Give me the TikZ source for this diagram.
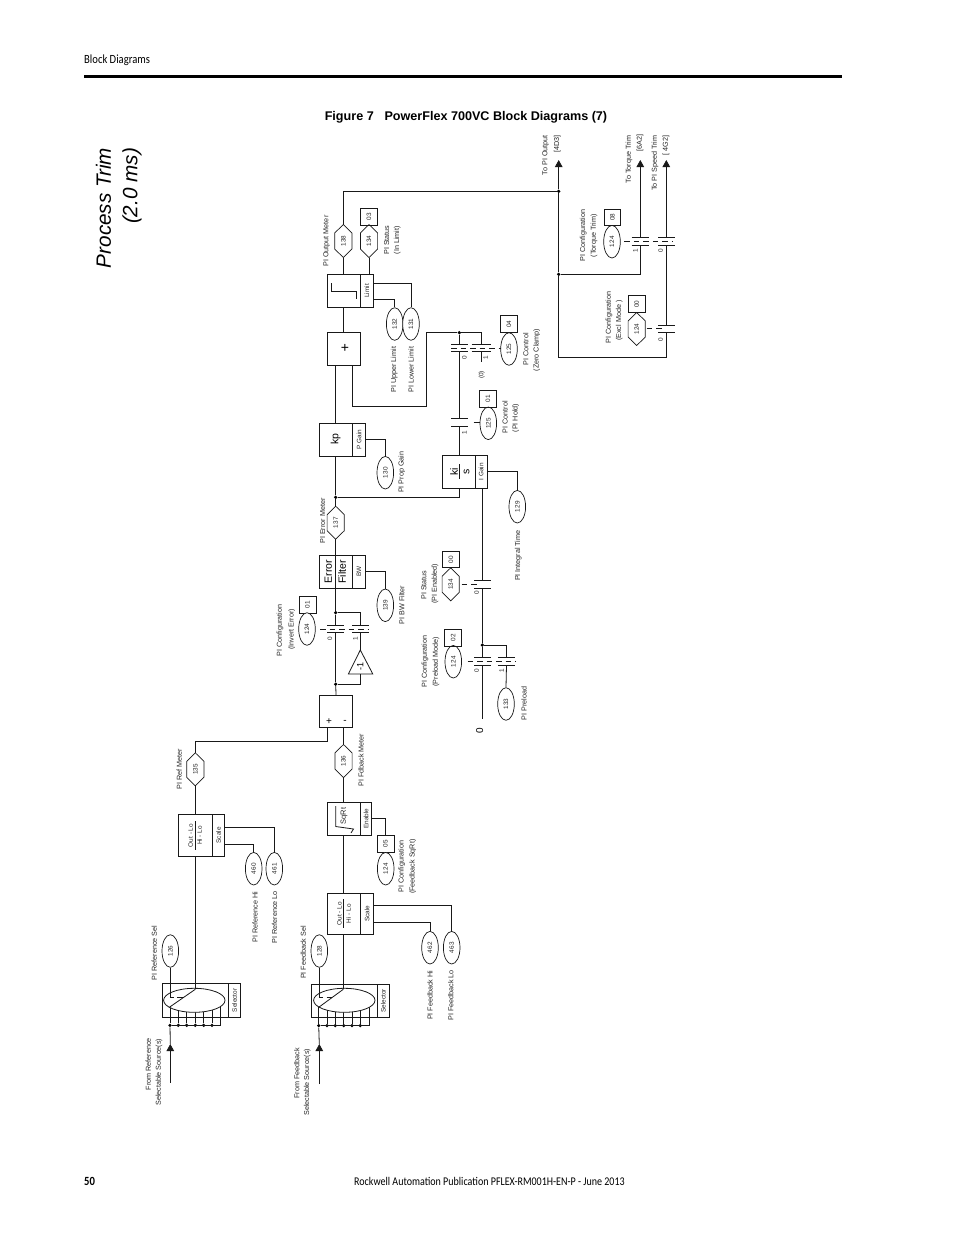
\documentclass[tikz,border=0pt]{standalone}
\usepackage{fontspec}
\setmainfont{Liberation Sans}
\newfontfamily\pagefont[FakeStretch=.85]{Carlito}
\usetikzlibrary{shapes.geometric,arrows.meta,calc}
\newcommand\rt[1]{\rotatebox{90}{#1}}
\newcommand\contact[4]{% name, x, y centre, half width
  \coordinate (#1t) at (#2,#3-3.8);
  \coordinate (#1b) at (#2,#3+3.8);
  \draw[ln] ($(#1t)+(-#4,0)$) -- ($(#1t)+(#4,0)$);
  \draw[ln] ($(#1b)+(-#4,0)$) -- ($(#1b)+(#4,0)$);
}
\newcommand\hexnode[4]{% name, x, y, text
  \node[hexa] (#1) at (#2,#3) {\rt{#4}};
  \draw[draw=black!90,line width=.7pt,line join=miter] (#1.north) -- ($(#1.north east)+(0,8.5)$) -- ($(#1.south east)+(0,-8.5)$) -- (#1.south) -- ($(#1.south west)+(0,-8.5)$) -- ($(#1.north west)+(0,8.5)$) -- cycle;
}
\tikzset{
  ln/.style={line width=.8pt,color=black!90},
  link/.style={line width=.8pt,color=black!90,dash pattern=on 5.5pt off 4pt},
  lb/.style={inner sep=0pt,rotate=90,text=black!85,font=\fontsize{7.2}{8.6}\selectfont},
  sm/.style={inner sep=0pt,rotate=90,text=black!85,font=\fontsize{6.4}{7}\selectfont},
  big/.style={inner sep=0pt,rotate=90,text=black,font=\fontsize{10.5}{12}\selectfont},
  par/.style={draw=black!90,line width=.7pt,ellipse,minimum width=16.6pt,minimum height=32.6pt,inner sep=0pt,fill=white,text=black!85,font=\fontsize{6.4}{7}\selectfont},
  hexa/.style={minimum width=16.8pt,minimum height=32.6pt,inner sep=0pt,text=black!85,font=\fontsize{6.4}{7}\selectfont},
  bitbox/.style={draw=black!90,line width=.8pt,minimum width=16.8pt,minimum height=16.4pt,inner sep=0pt,text=black!85,font=\fontsize{6.4}{7}\selectfont},
  bx/.style={draw=black!90,line width=.8pt,inner sep=0pt,text=black!85,font=\fontsize{6.4}{7}\selectfont},
  dot/.style={circle,fill=black,inner sep=0pt,minimum size=3.6pt},
  tip/.style={-{Triangle[width=7.5pt,length=7pt]}},
}
\begin{document}
\begin{tikzpicture}[x=1pt,y=-1pt]
\useasboundingbox (0,0) rectangle (954,1235);
\fill[white] (0,0) rectangle (954,1235);

% page furniture
\node[anchor=west,inner sep=0pt,font=\pagefont\fontsize{12.5}{14}\selectfont] (hdr) at (84,60.7) {Block Diagrams};
\coordinate (ruleL) at (84,76.3); \coordinate (ruleR) at (842,76.3);
\draw[line width=2.8pt] (ruleL) -- (ruleR);
\node[anchor=center,inner sep=0pt,font=\bfseries\fontsize{12.6}{14}\selectfont] (fig) at (466,117.5) {Figure 7\hspace{.85em}PowerFlex 700VC Block Diagrams (7)};
\node[inner sep=0pt,rotate=90,font=\itshape\fontsize{20.7}{24}\selectfont] (pt1) at (103.5,208) {Process Trim};
\node[inner sep=0pt,rotate=90,font=\itshape\fontsize{20.7}{24}\selectfont] (pt2) at (132,186) {(2.0 ms)};
\node[anchor=west,inner sep=0pt,font=\pagefont\bfseries\fontsize{12.5}{14}\selectfont] (pg) at (84,1181) {50};
\node[anchor=center,inner sep=0pt,font=\pagefont\fontsize{11.8}{14}\selectfont] (pub) at (489.5,1181) {Rockwell Automation Publication PFLEX-RM001H-EN-P - June 2013};

% ---------- reference selector
\node[bx,minimum width=66pt,minimum height=34pt] (s1L) at (195.3,1000.3) {};
\node[bx,minimum width=12.4pt,minimum height=34pt] (s1R) at (234.5,1000.3) {\rt{Selector}};
\foreach \x/\n in {170/a,178.3/b,186.7/c,195.3/d,203.7/e,212/f}{
  \node[dot] (b1\n) at (\x,1025.3) {};
  \draw[ln] (b1\n) -- (\x,1000.3);
}
\coordinate (b1r) at (220.7,1025.3);
\draw[ln] (b1a) -- (b1r) -- (220.7,1000.3);
\node[draw=black!90,line width=.8pt,ellipse,minimum width=61.4pt,minimum height=24pt,inner sep=0pt,fill=white] (sw1) at (194.3,1000.3) {};
\coordinate (sw1p) at (195.3,989.3); \coordinate (sw1q) at (169.3,1007.3);
\draw[ln] (sw1p) -- (sw1q);
\node[par] (p126) at (170.3,951) {\rt{126}};
\coordinate (pt1e) at (170.3,997.5);
\draw[ln] (p126.south) -- (pt1e);
\draw[ln] (pt1e) -- ++(3.7,0);
\draw[ln] (177.3,997.5) -- (182.7,997.5);
\coordinate (in1s) at (170.3,1082.7); \coordinate (in1a) at (170.3,1044);
\draw[ln,tip] (in1s) -- (in1a);
\draw[ln] (in1a) -- (b1a);
\node[bx,minimum width=34pt,minimum height=42pt] (sc1L) at (195.3,835.3) {};
\node[bx,minimum width=12.4pt,minimum height=42pt] (sc1R) at (218.5,835.3) {\rt{Scale}};
\node[sm] (t1a) at (190.7,835.5) {Out - Lo};
\node[sm] (t1b) at (199.6,835.5) {Hi - Lo};
\draw[ln] (sc1L.center |- 0,821) -- (sc1L.center |- 0,850);
\draw[ln] (sc1L.south -| sw1p) -- (sw1p);
\node[par] (p460) at (253.7,868.7) {\rt{460}};
\node[par] (p461) at (274.3,868.7) {\rt{461}};
\draw[ln] (sc1R.east |- 0,844.3) -| (p460.north);
\draw[ln] (sc1R.east |- 0,827) -| (p461.north);
\hexnode{h135}{195.3}{769.3}{135}
\draw[ln] (sc1L.north) -- (h135.south);

% ---------- feedback selector
\node[bx,minimum width=66pt,minimum height=33.3pt] (s2L) at (344.3,1000.7) {};
\node[bx,minimum width=12pt,minimum height=33.3pt] (s2R) at (383.3,1000.7) {\rt{Selector}};
\foreach \x/\n in {318.7/a,327/b,335.3/c,343.7/d,352/e,360.3/f}{
  \node[dot] (b2\n) at (\x,1025.6) {};
  \draw[ln] (b2\n) -- (\x,1000.3);
}
\coordinate (b2r) at (369.3,1025.6);
\draw[ln] (b2a) -- (b2r) -- (369.3,1000.3);
\node[draw=black!90,line width=.8pt,ellipse,minimum width=61.4pt,minimum height=24pt,inner sep=0pt,fill=white] (sw2) at (344.3,1000.3) {};
\coordinate (sw2p) at (343.3,989.3); \coordinate (sw2q) at (318.7,1007.3);
\draw[ln] (sw2p) -- (sw2q);
\node[par] (p128) at (319.3,951) {\rt{128}};
\coordinate (pt2e) at (319.3,997.5);
\draw[ln] (p128.south) -- (pt2e);
\draw[ln] (pt2e) -- ++(3.4,0);
\draw[ln] (326.7,997.5) -- (332,997.5);
\coordinate (in2s) at (319.3,1084); \coordinate (in2a) at (319.3,1044);
\draw[ln,tip] (in2s) -- (in2a);
\draw[ln] (in2a) -- (b2a);
\node[bx,minimum width=33pt,minimum height=41pt] (sc2L) at (343.8,913.8) {};
\node[bx,minimum width=13.4pt,minimum height=41pt] (sc2R) at (367,913.8) {\rt{Scale}};
\node[sm] (t2a) at (339.3,913.6) {Out - Lo};
\node[sm] (t2b) at (348.7,913.6) {Hi - Lo};
\draw[ln] (343.3,899) -- (343.3,928);
\draw[ln] (sc2L.south -| sw2p) -- (sw2p);
\node[par] (p462) at (430,947.7) {\rt{462}};
\node[par] (p463) at (451.7,947.7) {\rt{463}};
\draw[ln] (sc2R.east |- 0,922.3) -| (p462.north);
\draw[ln] (sc2R.east |- 0,905) -| (p463.north);

% ---------- sqrt block
\node[bx,minimum width=33pt,minimum height=33pt] (sq) at (343.8,818.8) {};
\node[bx,minimum width=11.4pt,minimum height=33pt] (en) at (366,818.8) {\rt{Enable}};
\node[inner sep=0pt,rotate=90,text=black!85,font=\fontsize{7.5}{9}\selectfont] (sqt) at (344,816) {SqRt};
\draw[ln] (335.7,806) -- (335.7,826.5) -- (353.5,829) -- (351,833);
\draw[ln] (sq.south -| sw2p) -- (sc2L.north -| sw2p);
\node[bitbox] (b05) at (385.5,843.8) {\rt{05}};
\node[par] (p124f) at (385.7,868.7) {\rt{124}};
\draw[ln] (en.east) -| (b05.north);
\hexnode{h136}{343.5}{761}{136}
\draw[ln] (h136.south) -- (sq.north -| h136.south);

% ---------- summing junction
\node[bx,minimum width=33.4pt,minimum height=32pt] (sum) at (336,711.3) {};
\node[inner sep=0pt,font=\fontsize{10}{11}\selectfont] (sp) at (329,722) {+};
\node[inner sep=0pt,font=\fontsize{10}{11}\selectfont] (sm) at (345,721.6) {-};
\draw[ln] (h135.north) |- (327.3,741.3) -- (sum.south -| 327.3,0);
\draw[ln] (h136.north) -- (sum.south -| h136.north);

% ---------- invert error
\node[dot] (jA) at (335.7,684.2) {};
\draw[ln] (sum.north) -- (jA);
\coordinate (triA) at (360.3,650); \coordinate (triL) at (348.4,674); \coordinate (triR) at (372.8,674);
\draw[ln,line join=miter] (triA) -- (triL) -- (triR) -- cycle;
\node[inner sep=0pt,rotate=90,font=\fontsize{9}{10}\selectfont] (neg) at (360.3,666) {-1};
\contact{c0}{335.7}{629}{8.3}
\contact{c1}{360.3}{629}{8.3}
\draw[ln] (jA) -- (c0b);
\coordinate (triB) at (360.3,674);
\draw[ln] (jA) -| (triB);
\draw[ln] (triA) -- (c1b);
\node[dot] (jB) at (335.7,612.7) {};
\draw[ln] (c1t) |- (jB);
\draw[ln] (c0t) -- (jB);
\node[bitbox] (b01i) at (307.5,604.7) {\rt{01}};
\node[par] (p124i) at (307,629) {\rt{124}};
\coordinate (dI0) at (320,629); \coordinate (dI1) at (369,629);
\draw[link] (dI0) -- (dI1);
\node[sm] (n0a) at (330,638.7) {0};
\node[sm] (n1a) at (355.3,638.7) {1};

% ---------- error filter
\node[bx,minimum width=33pt,minimum height=33pt] (ef) at (335.8,571.8) {};
\node[bx,minimum width=13.4pt,minimum height=33pt] (efr) at (359,571.8) {\rt{BW}};
\node[big] (er) at (328.3,571.8) {Error};
\node[big] (fl) at (342.2,571.8) {Filter};
\draw[ln] (ef.north -| jB) -- (ef.south -| jB);
\draw[ln] (jB) -- (ef.south -| jB);
\node[par] (p139) at (385.3,605.3) {\rt{139}};
\draw[ln] (efr.east) -| (p139.north);
\hexnode{h137}{335.7}{522.7}{137}
\draw[ln] (h137.south) -- (ef.north -| h137.south);

% ---------- kp branch
\node[dot] (jC) at (335.7,497.3) {};
\draw[ln] (h137.north) -- (jC);
\node[bx,minimum width=33pt,minimum height=32.7pt] (kp) at (335.8,439.6) {};
\node[bx,minimum width=13.4pt,minimum height=32.7pt] (kpr) at (359,439.6) {\rt{P Gain}};
\node[big] (kpt) at (335.7,439.3) {kp};
\draw[ln] (jC) -- (kp.south -| jC);
\node[par] (p130) at (385.3,472.7) {\rt{130}};
\draw[ln] (kpr.east) -| (p130.north);

% ---------- ki branch
\node[bx,minimum width=32.3pt,minimum height=33.3pt] (ki) at (458.8,471.7) {};
\node[bx,minimum width=12.3pt,minimum height=33.3pt] (kir) at (481.1,471.7) {\rt{I Gain}};
\node[big] (kit) at (454,471.7) {ki};
\node[big] (kis) at (466.7,471.7) {s};
\draw[ln] (459.3,464.3) -- (459.3,479);
\draw[ln] (jC) -| (459.3,488.3);
\node[par] (p129) at (517.3,506.7) {\rt{129}};
\draw[ln] (kir.east) -| (p129.north);

% ---------- PI hold / zero clamp
\contact{ch}{459.3}{422.5}{8.3}
\draw[ln] (chb) -- (ki.north -| 459.3,0);
\node[par] (p125h) at (488.3,423.3) {\rt{125}};
\node[bitbox] (b01h) at (488,398.8) {\rt{01}};
\coordinate (dH0) at (473.5,422.7); \coordinate (dH1) at (479.5,422.7);
\draw[ln] (dH0) -- (dH1);
\contact{cz0}{459.3}{348}{8.3}
\contact{cz1}{481}{348}{9.5}
\node[dot] (jD) at (459.3,332.7) {};
\draw[ln] (jD) -- (cz0t);
\draw[ln] (jD) -| (cz1t);
\draw[ln] (cz0b) -- (cht);
\coordinate (z0) at (481,362);
\draw[ln] (cz1b) -- (z0);
\node[par] (p125z) at (509,349) {\rt{125}};
\node[bitbox] (b04) at (509,324) {\rt{04}};
\coordinate (dZ0) at (451,348.3); \coordinate (dZ1) at (500.5,348.3);
\draw[link] (dZ0) -- (dZ1);
\node[sm] (n0b) at (464.3,357.3) {0};
\node[sm] (n1b) at (485.7,357.3) {1};
\node[sm] (n0c) at (481.7,375) {(0)};
\node[sm] (n1c) at (464.3,432.7) {1};

% ---------- summing output + limit
\node[bx,minimum width=33.4pt,minimum height=33pt] (add) at (344,348.8) {};
\node[inner sep=0pt,font=\fontsize{14}{15}\selectfont] (addt) at (345,348.3) {+};
\draw[ln] (kp.north) -- (add.south -| kp.north);
\coordinate (ad1) at (352.7,406.3); \coordinate (ad2) at (426.3,406.3);
\draw[ln] (add.south -| ad1) -- (ad1) -- (ad2) |- (jD);
\node[bx,minimum width=33pt,minimum height=33pt] (lim) at (343.8,290.8) {};
\node[bx,minimum width=13pt,minimum height=33pt] (limr) at (366.8,290.8) {\rt{Limit}};
\draw[ln] (331.7,283.3) -- (331.7,291) -- (356,291) -- (356,299.3);
\draw[ln] (lim.south -| 343.3,0) -- (add.north -| 343.3,0);
\node[par] (p132) at (394.7,324) {\rt{132}};
\node[par] (p131) at (411,324) {\rt{131}};
\draw[ln] (limr.east |- 0,299.3) -| (p132.north);
\draw[ln] (limr.east |- 0,283.3) -| (p131.north);
\hexnode{h138}{343.3}{241}{138}
\draw[ln] (h138.south) -- (lim.north -| h138.south);
\hexnode{h134l}{369}{241}{134}
\draw[ln] (h134l.south) -- (limr.north -| h134l.south);
\node[bitbox] (b03) at (369,216.8) {\rt{03}};

% ---------- integrator input chain
\coordinate (kiO) at (482.3,488.3);
\contact{ce}{482.3}{584.2}{8.3}
\draw[ln] (kiO) -- (cet);
\hexnode{h134e}{450.7}{584.3}{134}
\node[bitbox] (b00e) at (451,559.5) {\rt{00}};
\coordinate (dE0) at (461.5,584.2); \coordinate (dE1) at (480,584.2);
\draw[link] (dE0) -- (dE1);
\node[sm] (n0d) at (476.7,593) {0};
\node[dot] (jE) at (482.3,645) {};
\draw[ln] (ceb) -- (jE);
\contact{cp0}{482.3}{661.5}{8.3}
\contact{cp1}{506.5}{661.5}{8.6}
\draw[ln] (jE) -- (cp0t);
\draw[ln] (jE) -| (cp1t);
\node[par] (p133) at (506,704) {\rt{133}};
\draw[ln] (cp1b) -- (p133.north);
\coordinate (zr) at (482.3,719);
\draw[ln] (cp0b) -- (zr);
\node[inner sep=0pt,rotate=90,font=\fontsize{10}{11}\selectfont] (zero) at (479.8,731) {0};
\node[par] (p124p) at (453.3,661.7) {\rt{124}};
\node[bitbox] (b02) at (453.2,637.7) {\rt{02}};
\coordinate (dP0) at (467.5,661.7); \coordinate (dP1) at (516,661.7);
\draw[link] (dP0) -- (dP1);
\node[sm] (n0e) at (476.7,670.7) {0};
\node[sm] (n1e) at (501.7,670.7) {1};

% ---------- outputs
\node[dot] (jF) at (558.7,191.3) {};
\node[dot] (jG) at (558.7,274.3) {};
\coordinate (to1) at (558.7,160);
\draw[ln] (h138.north) |- (jF);
\draw[ln,tip] (jF) -- (to1);
\draw[ln] (jF) -- (jG);
\coordinate (to2) at (640.3,160);
\coordinate (to3) at (666.3,160);
\contact{cT}{640.3}{241.2}{8.6}
\contact{cS}{666.3}{241.2}{8.3}
\draw[ln,tip] (cTt) -- (to2);
\draw[ln,tip] (cSt) -- (to3);
\draw[ln] (jG) -| (cTb);
\contact{cX}{666.3}{328.7}{8.3}
\draw[ln] (cSb) -- (cXt);
\coordinate (xc) at (558.7,357.3);
\draw[ln] (jG) -- (xc) -| (cXb);
\node[par] (p124t) at (612,241.7) {\rt{124}};
\node[bitbox] (b08) at (612.3,217.3) {\rt{08}};
\coordinate (dT0) at (624.3,241.3); \coordinate (dT1) at (673,241.3);
\draw[link] (dT0) -- (dT1);
\hexnode{h124x}{636.7}{329}{124}
\node[bitbox] (b00x) at (636.7,304) {\rt{00}};
\coordinate (dX0) at (646.7,328.5); \coordinate (dX1) at (663.5,328.5);
\draw[link] (dX0) -- (dX1);
\node[sm] (n1f) at (635.3,250.7) {1};
\node[sm] (n0f) at (660.7,250.7) {0};
\node[sm] (n0g) at (660.7,339.3) {0};

% ---------- labels
\node[lb] (L1) at (154.3,953) {PI Reference Sel};
\node[lb] (L2) at (303.3,952.5) {PI Feedback Sel};
\node[lb] (L3) at (148.3,1064) {From Reference};
\node[lb] (L4) at (159,1072.3) {Selectable Source(s)};
\node[lb] (L5) at (296.7,1073.3) {From Feedback};
\node[lb] (L6) at (307.3,1082.3) {Selectable Source(s)};
\node[lb] (L7) at (255,917) {PI Reference Hi};
\node[lb] (L8) at (274.5,917) {PI Reference Lo};
\node[lb] (L9) at (430,995.3) {PI Feedback Hi};
\node[lb] (L10) at (450.7,995.3) {PI Feedback Lo};
\node[lb] (L11) at (179.3,769.3) {PI Ref Meter};
\node[lb] (L12) at (361,760) {PI Fdback Meter};
\node[lb] (L13) at (401.7,866.7) {PI Configuration};
\node[lb] (L14) at (412.7,866.7) {(Feedback SqRt)};
\node[lb] (L15) at (280,630.3) {PI Configuration};
\node[lb] (L16) at (291.7,629.3) {(Invert Error)};
\node[lb] (L17) at (401.7,605) {PI BW Filter};
\node[lb] (L18) at (322.7,521) {PI Error Meter};
\node[lb] (L19) at (401.7,472.3) {PI Prop Gain};
\node[lb] (L20) at (518.3,555.7) {PI Integral Time};
\node[lb] (L21) at (424,585) {PI Status};
\node[lb] (L22) at (435,583.7) {(PI Enabled)};
\node[lb] (L23) at (425,661.7) {PI Configuration};
\node[lb] (L24) at (436,661.7) {(Preload Mode)};
\node[lb] (L25) at (524,703.3) {PI Preload};
\node[lb] (L26) at (505,417.3) {PI Control};
\node[lb] (L27) at (515.7,418) {(PI Hold)};
\node[lb] (L28) at (525.7,349) {PI Control};
\node[lb] (L29) at (536.7,350) {(Zero Clamp)};
\node[lb] (L30) at (394.3,369.7) {PI Upper Limit};
\node[lb] (L31) at (411,369.7) {PI Lower Limit};
\node[lb] (L32) at (326.7,241) {PI Output Meter};
\node[lb] (L33) at (386.7,240) {PI Status};
\node[lb] (L34) at (397.3,240) {(In Limit)};
\node[lb] (L35) at (545.7,155) {To PI Output};
\node[lb] (L36) at (557.3,144) {[4D3]};
\node[lb] (L37) at (629,159.7) {To Torque Trim};
\node[lb] (L38) at (640,143.3) {[6A2]};
\node[lb] (L39) at (655,163.3) {To PI Speed Trim};
\node[lb] (L40) at (666,145.7) {[ 4G2]};
\node[lb] (L41) at (583.3,235.7) {PI Configuration};
\node[lb] (L42) at (594,235.7) {(Torque Trim)};
\node[lb] (L43) at (609,317.3) {PI Configuration};
\node[lb] (L44) at (619.3,320.7) {(Excl Mode )};
\end{tikzpicture}
\end{document}
